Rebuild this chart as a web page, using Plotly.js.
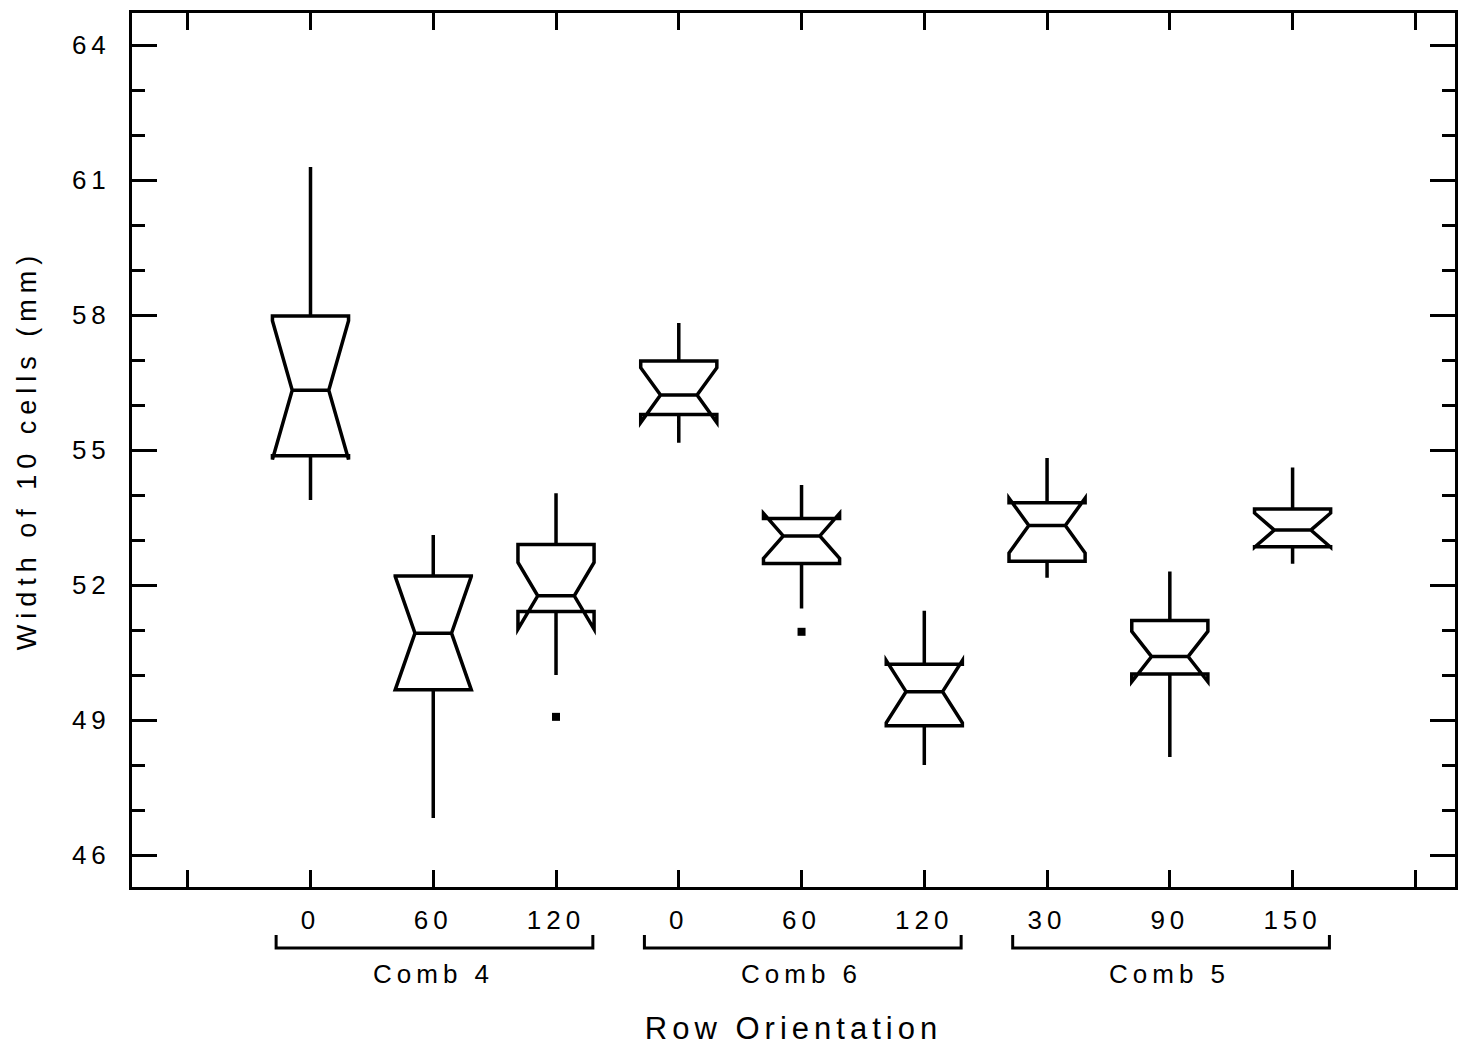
<!DOCTYPE html>
<html><head><meta charset="utf-8">
<script src="https://cdn.plot.ly/plotly-3.0.1.min.js"></script>
<style>
html,body{margin:0;padding:0;background:#fff;}
#chart{width:1470px;height:1046px;}
.xtick text{letter-spacing:5px;}
.ytick text{letter-spacing:5px;}
.ytitle{letter-spacing:6px;}
.xtitle{letter-spacing:5px;}
.annotation-text{letter-spacing:5px;}
</style></head><body><div id="chart"></div>
<script>
// Row orientation (degrees) of each box, left to right
const orientations = ['0', '60', '120', '0', '60', '120', '30', '90', '150'];
// Combination groups and which group each box belongs to
const groups = ['Comb 4', 'Comb 6', 'Comb 5'];
const groupOf = [0, 0, 0, 1, 1, 1, 2, 2, 2];
// Box statistics: width of 10 cells (mm)
const upperFence = [61.29, 53.11, 54.04, 57.82, 54.22, 51.43, 54.82, 52.30, 54.61];
const q3Vals     = [57.98, 52.20, 52.90, 56.98, 53.48, 50.24, 53.83, 51.21, 53.69];
const medianVals = [56.33, 50.93, 51.76, 56.22, 53.09, 49.63, 53.32, 50.41, 53.22];
const q1Vals     = [54.87, 49.67, 51.41, 55.79, 52.48, 48.87, 52.53, 50.02, 52.85];
const lowerFence = [53.89, 46.82, 50.00, 55.16, 51.48, 48.00, 52.16, 48.18, 52.47];
const notchSpan  = [1.54, 1.26, 0.74, 0.61, 0.50, 0.69, 0.61, 0.56, 0.38];
// Outliers: box number (1-based) and value
const outlierBox   = [3, 5];
const outlierValue = [49.07, 50.96];
// Y tick values
const yTickVals = [46, 49, 52, 55, 58, 61, 64];

const positions = orientations.map((_, i) => i + 1);
const xTickVals = [0].concat(positions, [orientations.length + 1]);
const xTickText = [''].concat(orientations, ['']);

const FONT = '"Liberation Sans", Arial, sans-serif';

const boxTrace = {
  type: 'box',
  x: positions,
  q1: q1Vals,
  median: medianVals,
  q3: q3Vals,
  lowerfence: lowerFence,
  upperfence: upperFence,
  notchspan: notchSpan,
  notched: true,
  notchwidth: 0.26,
  whiskerwidth: 0,
  width: 0.62,
  boxpoints: false,
  fillcolor: 'rgba(255,255,255,0)',
  line: {color: '#000', width: 3.5},
  showlegend: false,
  hoverinfo: 'skip'
};

const outlierTrace = {
  type: 'scatter',
  mode: 'markers',
  x: outlierBox,
  y: outlierValue,
  marker: {symbol: 'square', size: 8, color: '#000'},
  showlegend: false,
  hoverinfo: 'skip'
};

const bracketLine = -0.0698, bracketEnd = -0.0549, groupLabelY = -0.0995;
const shapes = [], annotations = [];
groups.forEach((g, gi) => {
  const members = positions.filter((p, i) => groupOf[i] === gi);
  const x0 = Math.min(...members) - 0.28;
  const x1 = Math.max(...members) + 0.30;
  shapes.push({
    type: 'path', xref: 'x', yref: 'paper',
    path: `M ${x0},${bracketEnd} L ${x0},${bracketLine} L ${x1},${bracketLine} L ${x1},${bracketEnd}`,
    line: {color: '#000', width: 3}
  });
  annotations.push({
    xref: 'x', yref: 'paper',
    x: members.reduce((a, b) => a + b, 0) / members.length,
    y: groupLabelY, yanchor: 'middle', xanchor: 'center',
    text: g, showarrow: false,
    font: {family: FONT, size: 26, color: '#000'}
  });
});

const layout = {
  width: 1470, height: 1046,
  margin: {l: 132, r: 15, t: 13, b: 159},
  paper_bgcolor: '#fff', plot_bgcolor: '#fff',
  font: {family: FONT, color: '#000'},
  xaxis: {
    range: [-0.454, 10.323],
    tickmode: 'array', tickvals: xTickVals, ticktext: xTickText,
    ticks: 'inside', ticklen: 17, tickwidth: 3, tickcolor: '#000',
    showline: true, linewidth: 3, linecolor: '#000', mirror: 'allticks',
    showgrid: false, zeroline: false,
    tickfont: {family: FONT, size: 26, color: '#000'},
    ticklabelstandoff: 8,
    title: {text: 'Row Orientation', font: {family: FONT, size: 31, color: '#000'}, standoff: 86}
  },
  yaxis: {
    range: [45.289, 64.711],
    tickmode: 'array', tickvals: yTickVals,
    ticks: 'inside', ticklen: 25, tickwidth: 3, tickcolor: '#000',
    minor: {dtick: 1, tick0: 46, ticks: 'inside', ticklen: 13, tickwidth: 3, tickcolor: '#000', showgrid: false},
    showline: true, linewidth: 3, linecolor: '#000', mirror: 'allticks',
    showgrid: false, zeroline: false,
    tickfont: {family: FONT, size: 26, color: '#000'},
    ticklabelstandoff: 13,
    title: {text: 'Width of 10 cells (mm)', font: {family: FONT, size: 27, color: '#000'}, standoff: 28}
  },
  shapes: shapes,
  annotations: annotations
};

Plotly.newPlot('chart', [boxTrace, outlierTrace], layout, {displayModeBar: false, staticPlot: true});
</script></body></html>
